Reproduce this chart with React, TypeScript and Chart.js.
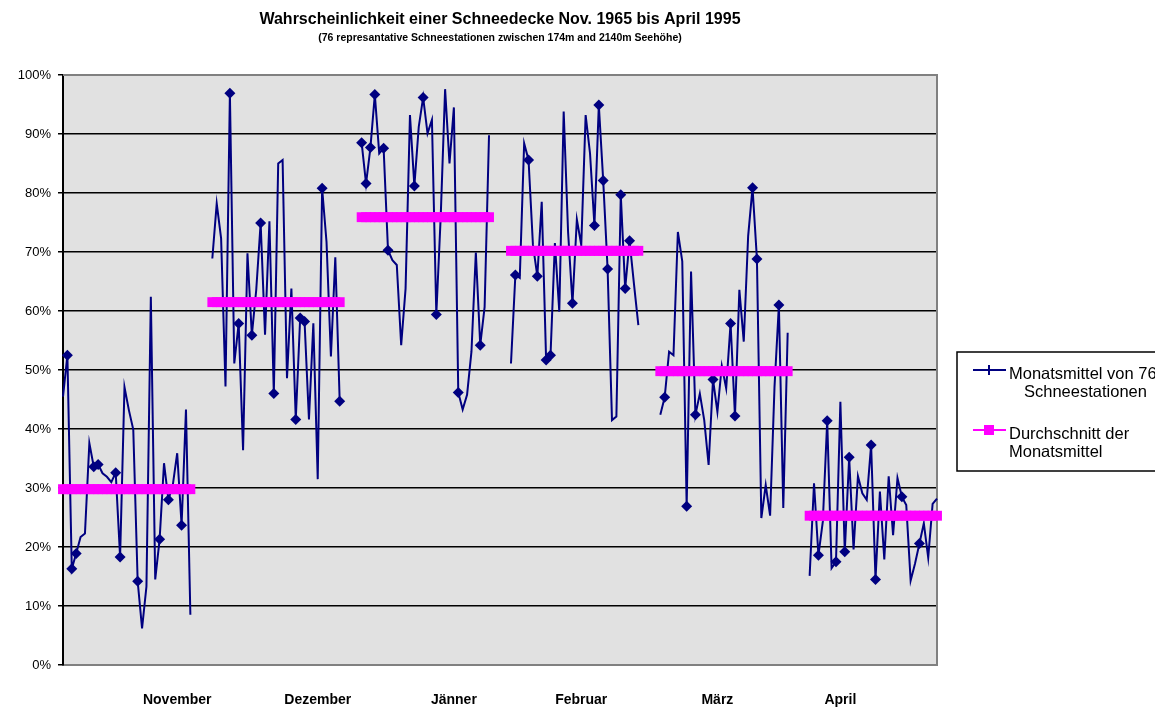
import React, { useEffect, useRef } from 'react';
import { Chart, registerables } from 'chart.js';

Chart.register(...registerables);

// ---- data ----
const monthNames = ['November', 'Dezember', 'Jänner', 'Februar', 'März', 'April'];

const novemberValues = [45.5, 52.5, 16.3, 18.9, 21.7, 22.3, 37.6, 33.6, 34.0, 32.5, 31.9, 31.0, 32.6, 18.3, 47.1, 43.2, 39.9, 14.2, 6.2, 13.3, 62.4, 14.5, 21.3, 34.2, 28.0, 30.5, 35.9, 23.7, 43.3, 8.5];
const dezemberValues = [68.9, 78.2, 72.3, 47.2, 96.9, 51.1, 57.9, 36.4, 69.8, 55.9, 63.6, 74.9, 56.0, 75.2, 46.0, 85.0, 85.6, 48.6, 63.8, 41.6, 58.8, 58.2, 41.6, 57.9, 31.5, 80.8, 71.7, 52.3, 69.1, 44.7];
const jaennerValues = [88.5, 81.6, 87.7, 96.7, 86.7, 87.6, 70.3, 68.6, 67.8, 54.2, 63.8, 93.2, 81.2, 91.2, 96.2, 90.1, 92.4, 59.4, 76.0, 97.6, 85.0, 94.5, 46.2, 43.3, 45.8, 53.1, 69.9, 54.2, 60.7, 89.8];
const februarValues = [51.1, 66.1, 65.6, 88.4, 85.6, 71.2, 65.9, 78.5, 51.7, 52.5, 71.5, 59.9, 93.8, 73.4, 61.3, 75.5, 71.2, 93.2, 86.7, 74.5, 94.9, 82.1, 67.1, 41.5, 42.1, 79.7, 63.8, 71.9, 64.6, 57.6];
const maerzValues = [42.4, 45.4, 53.1, 52.5, 73.4, 68.4, 26.9, 66.7, 42.4, 46.0, 41.5, 33.9, 48.4, 42.9, 50.7, 46.9, 57.9, 42.2, 63.6, 54.8, 72.7, 80.9, 68.8, 24.9, 30.5, 25.3, 47.1, 61.0, 26.6, 56.3];
const aprilValues = [15.1, 30.8, 18.6, 24.3, 41.4, 16.4, 17.5, 44.6, 19.2, 35.2, 19.6, 32.0, 29.1, 28.0, 37.3, 14.5, 29.4, 17.9, 32.0, 22.0, 31.7, 28.5, 27.1, 14.3, 17.2, 20.6, 24.0, 18.2, 27.3, 28.2];

const monthlySeries = [novemberValues, dezemberValues, jaennerValues, februarValues, maerzValues, aprilValues];

const monthAverages = [29.8, 61.5, 75.9, 70.2, 49.8, 25.3];

// points of the monthly series that carry a diamond marker (index within each month)
const markedNovember = [1, 2, 3, 7, 8, 12, 13, 17, 22, 24, 27];
const markedDezember = [4, 6, 9, 11, 14, 19, 20, 21, 25, 29];
const markedJaenner = [0, 1, 2, 3, 5, 6, 12, 14, 17, 22, 27];
const markedFebruar = [1, 4, 6, 8, 9, 14, 19, 20, 21, 22, 25, 26, 27];
const markedMaerz = [1, 6, 8, 12, 16, 17, 21, 22, 27];
const markedApril = [2, 4, 6, 8, 9, 14, 15, 21, 25];
const markedPoints = [markedNovember, markedDezember, markedJaenner, markedFebruar, markedMaerz, markedApril];

// category (within each month block) under which the month name is printed
const monthLabelSlot = [26, 24, 21, 16, 13, 7];

const gapBetweenMonths = 4;
const yTickValues = [0, 10, 20, 30, 40, 50, 60, 70, 80, 90, 100];

const titleText = 'Wahrscheinlichkeit einer Schneedecke Nov. 1965 bis April 1995';
const subtitleText = '(76 represantative Schneestationen zwischen 174m and 2140m Seehöhe)';
const legendSeries = ['Monatsmittel von 76', 'Schneestationen'];
const legendAverage = ['Durchschnitt der', 'Monatsmittel'];

// ---- build category table ----
const categoryLabels: string[] = [];
const monthlyData: (number | null)[] = [];
const averageData: (number | null)[] = [];
const markerFlags: boolean[] = [];
monthlySeries.forEach((vals, m) => {
  if (m > 0) {
    for (let g = 0; g < gapBetweenMonths; g++) {
      categoryLabels.push('');
      monthlyData.push(null);
      averageData.push(null);
      markerFlags.push(false);
    }
  }
  vals.forEach((v, i) => {
    categoryLabels.push(i === monthLabelSlot[m] ? monthNames[m] : '');
    monthlyData.push(v);
    averageData.push(monthAverages[m]);
    markerFlags.push(markedPoints[m].includes(i));
  });
});

const FONT = '"Liberation Sans", Arial, sans-serif';

const decorPlugin = {
  id: 'decor',
  beforeDraw(chart: any) {
    const { ctx, chartArea } = chart;
    ctx.save();
    ctx.fillStyle = '#ffffff';
    ctx.fillRect(0, 0, chart.width, chart.height);
    ctx.fillStyle = '#e1e1e1';
    ctx.fillRect(chartArea.left, chartArea.top, chartArea.right - chartArea.left, chartArea.bottom - chartArea.top);
    ctx.restore();
  },
  beforeDatasetsDraw(chart: any) {
    const { ctx, chartArea } = chart;
    ctx.save();
    ctx.strokeStyle = '#808080';
    ctx.lineWidth = 2;
    ctx.beginPath();
    ctx.moveTo(chartArea.left, chartArea.top);
    ctx.lineTo(chartArea.right, chartArea.top);
    ctx.lineTo(chartArea.right, chartArea.bottom);
    ctx.stroke();
    ctx.restore();
  },
  afterDraw(chart: any) {
    const { ctx, chartArea } = chart;
    const cx = (chartArea.left + chartArea.right) / 2;
    ctx.save();
    ctx.fillStyle = '#000';
    ctx.textAlign = 'center';
    ctx.textBaseline = 'middle';
    ctx.font = `bold 16px ${FONT}`;
    ctx.fillText(titleText, cx, 20);
    ctx.font = `bold 10.5px ${FONT}`;
    ctx.fillText(subtitleText, cx, 38);

    // legend
    const bx = 957;
    const by = 352;
    ctx.strokeStyle = '#000';
    ctx.lineWidth = 1.5;
    ctx.strokeRect(bx, by, 260, 119);

    ctx.textAlign = 'left';
    ctx.font = `16.5px ${FONT}`;
    // series entry
    ctx.strokeStyle = '#000080';
    ctx.lineWidth = 2;
    ctx.beginPath();
    ctx.moveTo(973, 370);
    ctx.lineTo(1006, 370);
    ctx.stroke();
    ctx.beginPath();
    ctx.moveTo(989, 365);
    ctx.lineTo(989, 375);
    ctx.stroke();
    ctx.fillText(legendSeries[0], 1009, 374);
    ctx.fillText(legendSeries[1], 1024, 392);
    // average entry
    ctx.strokeStyle = '#ff00ff';
    ctx.beginPath();
    ctx.moveTo(973, 430);
    ctx.lineTo(1006, 430);
    ctx.stroke();
    ctx.fillStyle = '#ff00ff';
    ctx.fillRect(984, 425, 10, 10);
    ctx.fillStyle = '#000';
    ctx.fillText(legendAverage[0], 1009, 434);
    ctx.fillText(legendAverage[1], 1009, 452);
    ctx.restore();
  },
};

export default function App() {
  const canvasRef = useRef<HTMLCanvasElement | null>(null);

  useEffect(() => {
    const canvas = canvasRef.current;
    if (!canvas) return;
    const chart = new Chart(canvas, {
      type: 'line',
      data: {
        labels: categoryLabels,
        datasets: [
          {
            label: 'Durchschnitt der Monatsmittel',
            data: averageData,
            borderColor: '#ff00ff',
            backgroundColor: '#ff00ff',
            borderWidth: 2,
            pointStyle: 'rect',
            pointRadius: 7,
            pointBorderWidth: 0,
            pointBackgroundColor: '#ff00ff',
            spanGaps: false,
            tension: 0,
            clip: false,
            order: 0,
          } as any,
          {
            label: 'Monatsmittel von 76 Schneestationen',
            data: monthlyData,
            borderColor: '#000080',
            backgroundColor: '#000080',
            borderWidth: 2,
            pointStyle: 'rectRot',
            pointRadius: markerFlags.map((f) => (f ? 5.5 : 0)),
            pointBorderWidth: 0,
            pointBackgroundColor: '#000080',
            spanGaps: false,
            tension: 0,
            clip: false,
            order: 1,
          } as any,
        ],
      },
      options: {
        responsive: false,
        animation: false,
        maintainAspectRatio: false,
        layout: { padding: { left: 0, top: 75, right: 218, bottom: 0 } },
        plugins: {
          legend: { display: false },
          title: { display: false },
          tooltip: { enabled: false },
        },
        scales: {
          x: {
            type: 'category',
            offset: false,
            grid: { display: false, drawTicks: false },
            border: { display: true, color: '#808080', width: 2 },
            ticks: {
              autoSkip: false,
              maxRotation: 0,
              minRotation: 0,
              padding: 27,
              color: '#000',
              font: { family: FONT, size: 14, weight: 'bold' },
              callback: function (this: any, val: any) {
                const l = this.getLabelForValue(val);
                return l === '' ? null : l;
              },
            },
            afterFit: (scale: any) => {
              scale.height = 42;
            },
          },
          y: {
            min: 0,
            max: 100,
            afterBuildTicks: (scale: any) => {
              scale.ticks = yTickValues.map((v) => ({ value: v }));
            },
            grid: {
              color: (c: any) => (c.tick && (c.tick.value === 100 || c.tick.value === 0) ? '#808080' : '#000000'),
              lineWidth: 1.5,
              tickColor: '#000000',
              tickLength: 5,
              drawTicks: true,
            },
            border: { display: true, color: '#000000', width: 2 },
            ticks: {
              padding: 7,
              color: '#000',
              font: { family: FONT, size: 13 },
              callback: (v: any) => `${v}%`,
            },
            afterFit: (scale: any) => {
              scale.width = 63;
            },
          },
        },
      },
      plugins: [decorPlugin],
    });
    return () => chart.destroy();
  }, []);

  return (
    <div style={{ position: 'absolute', left: 0, top: 0, width: 1155, height: 707, background: '#fff' }}>
      <canvas ref={canvasRef} width={1155} height={707} style={{ display: 'block' }} />
    </div>
  );
}
